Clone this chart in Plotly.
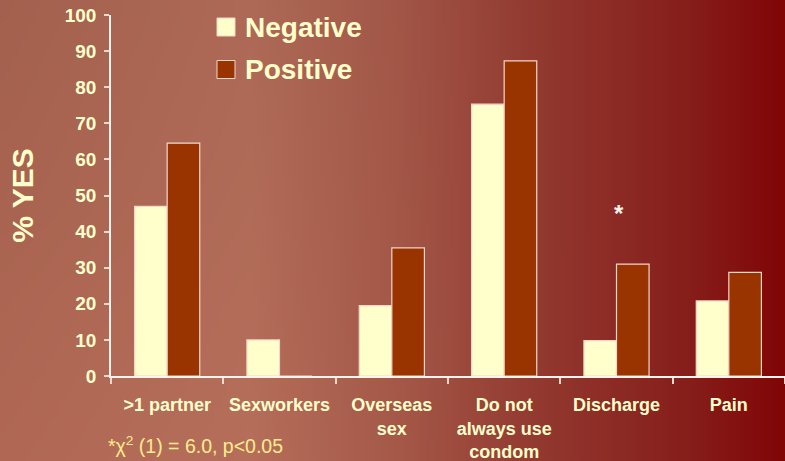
import base64, struct, zlib
import plotly.graph_objects as go

# ---------------- data ----------------
categories = [">1 partner", "Sexworkers", "Overseas<br>sex", "Do not<br>always use<br>condom", "Discharge", "Pain"]
negative = [47, 10, 19.5, 75.3, 9.8, 20.8]
positive = [64.5, 0, 35.5, 87.3, 31, 28.7]
series_names = ["Negative", "Positive"]
y_ticks = [0, 10, 20, 30, 40, 50, 60, 70, 80, 90, 100]
footnote = "*χ<sup>2</sup> (1) = 6.0, p<0.05"
sig_category = "Discharge"
sig_level = 45

# ---------------- styling ----------------
W, H = 785, 461
ML, MR, MT, MB = 111, 0, 15, 85
PW, PH = W - ML - MR, H - MT - MB
NEG_COLOR = "#ffffcc"
POS_COLOR = "#993300"
TXT = "#ffffcc"
FONT = "Arial, Liberation Sans, sans-serif"


def px_x(x):
    return (x - ML) / PW


def px_y(y):
    return 1 - (y - MT) / PH


def gradient_png(w, h):
    keys = [(0.0, (176, 104, 84)), (0.32, (181, 110, 90)), (0.51, (165, 88, 72)),
            (0.70, (145, 55, 46)), (0.89, (133, 28, 25)), (1.0, (128, 6, 6))]

    def hcol(t):
        for (t0, c0), (t1, c1) in zip(keys, keys[1:]):
            if t <= t1:
                f = (t - t0) / (t1 - t0)
                return [c0[i] + (c1[i] - c0[i]) * f for i in range(3)]
        return list(keys[-1][1])

    rows = []
    for j in range(h):
        v = j / (h - 1)
        row = bytearray()
        for i in range(w):
            t = i / (w - 1)
            c = hcol(t)
            fac = 1 - 0.075 * (1 - v) * max(0.0, 1 - t * 1.3)
            row += bytes(max(0, min(255, int(round(ch * fac)))) for ch in c)
        rows.append(b"\x00" + bytes(row))
    raw = b"".join(rows)

    def chunk(tag, data):
        return struct.pack(">I", len(data)) + tag + data + struct.pack(">I", zlib.crc32(tag + data) & 0xffffffff)

    png = b"\x89PNG\r\n\x1a\n" + chunk(b"IHDR", struct.pack(">IIBBBBB", w, h, 8, 2, 0, 0, 0)) \
        + chunk(b"IDAT", zlib.compress(raw, 9)) + chunk(b"IEND", b"")
    return "data:image/png;base64," + base64.b64encode(png).decode()


fig = go.Figure()
fig.add_trace(go.Bar(x=categories, y=negative, name=series_names[0],
                     marker=dict(color=NEG_COLOR, line=dict(color="#f3d6c8", width=1.2)),
                     showlegend=False))
fig.add_trace(go.Bar(x=categories, y=positive, name=series_names[1],
                     marker=dict(color=POS_COLOR, line=dict(color="#f3d6c8", width=1.2)),
                     showlegend=False))

# manual legend
shapes = []
annotations = []
for name, col, yc in [(series_names[0], NEG_COLOR, 27), (series_names[1], POS_COLOR, 69.5)]:
    shapes.append(dict(type="rect", xref="paper", yref="paper",
                       x0=px_x(217), x1=px_x(235), y0=px_y(yc + 9), y1=px_y(yc - 9),
                       fillcolor=col, line=dict(color="#f3d6c8", width=1)))
    annotations.append(dict(xref="paper", yref="paper", x=px_x(243), y=px_y(yc),
                            xanchor="left", yanchor="middle", text=name, showarrow=False,
                            font=dict(family=FONT, size=28, color=TXT, weight="bold")))

annotations.append(dict(x=sig_category, y=sig_level, xref="x", yref="y", text="*", showarrow=False,
                        xshift=2, font=dict(family=FONT, size=24, color="#fff4ee", weight="bold")))
annotations.append(dict(xref="paper", yref="paper", x=px_x(106), y=px_y(445), xanchor="left",
                        yanchor="middle", text=footnote, showarrow=False,
                        font=dict(family=FONT, size=19.5, color="#ffec8c")))

fig.update_layout(
    width=W, height=H,
    margin=dict(l=ML, r=MR, t=MT, b=MB, pad=0),
    paper_bgcolor="#b06a55",
    plot_bgcolor="rgba(0,0,0,0)",
    barmode="group", bargap=0.42, bargroupgap=0,
    font=dict(family=FONT, color=TXT),
    shapes=shapes,
    annotations=annotations,
    images=[dict(source=gradient_png(200, 120), xref="paper", yref="paper",
                 x=-ML / PW, y=1 + MT / PH, sizex=W / PW, sizey=H / PH,
                 xanchor="left", yanchor="top", sizing="stretch", layer="below")],
    xaxis=dict(showline=True, linecolor="#fff4ee", linewidth=1.5, showgrid=False,
               ticks="outside", tickson="boundaries", ticklen=6, tickcolor="#f0d8cc", tickwidth=1.5,
               tickfont=dict(family=FONT, size=18, color=TXT, weight="bold"),
               ticklabelstandoff=12, tickangle=0, fixedrange=True),
    yaxis=dict(range=[0, 100], tickvals=y_ticks, showline=True, linecolor="#fff4ee", linewidth=1.5,
               showgrid=False, zeroline=False, ticks="outside", ticklen=5, tickcolor="#f0d8cc", tickwidth=1.5,
               tickfont=dict(family=FONT, size=19, color=TXT, weight="bold"),
               ticklabelstandoff=4,
               title=dict(text="% YES", font=dict(family=FONT, size=30, color=TXT, weight="bold"), standoff=22),
               fixedrange=True),
)

fig.write_html("out.html", config={"displayModeBar": False},
               post_script="document.body.style.margin='0';document.body.style.overflow='hidden';")
